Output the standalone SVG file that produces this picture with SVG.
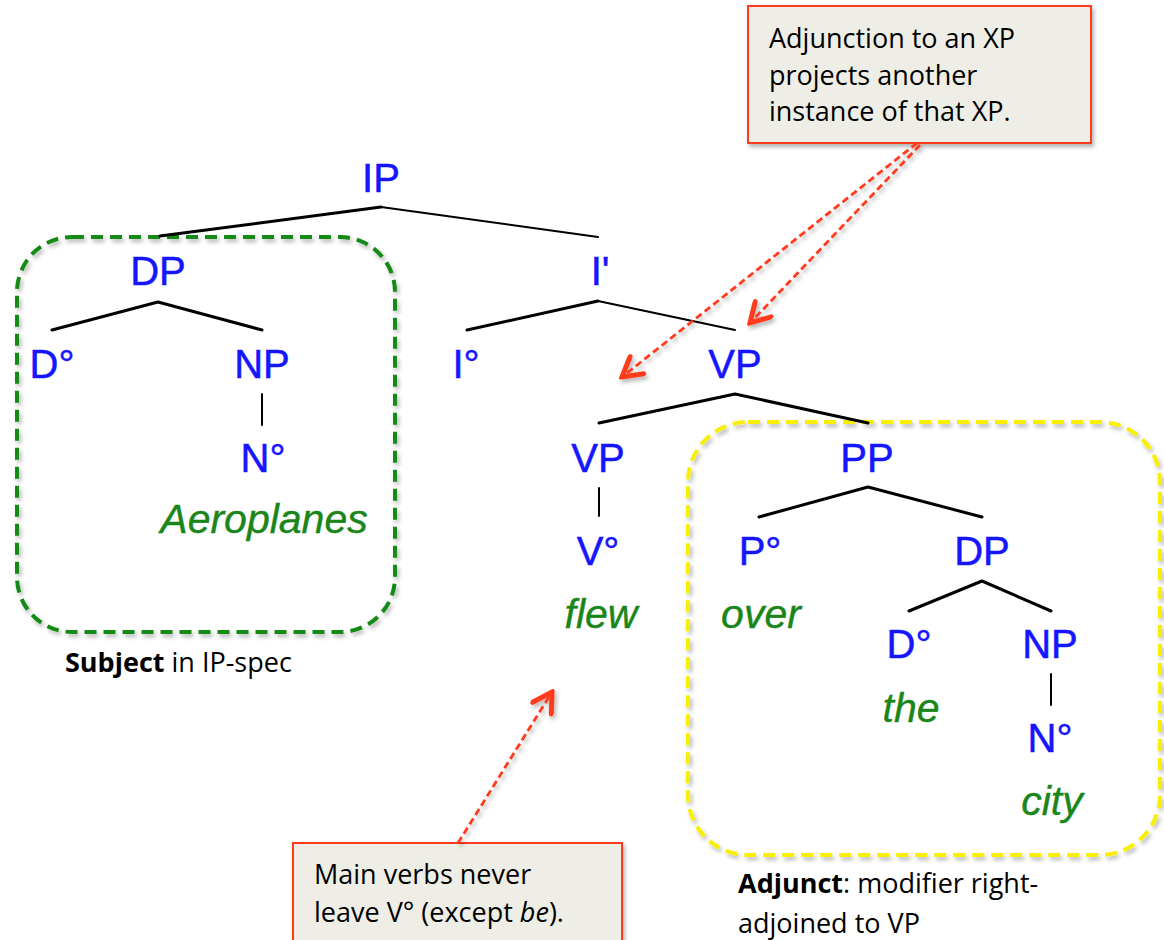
<svg xmlns="http://www.w3.org/2000/svg" width="1164" height="940" viewBox="0 0 1164 940">
<defs>
<filter id="sh" x="-10%" y="-10%" width="130%" height="130%">
<feDropShadow dx="2" dy="3" stdDeviation="2" flood-color="#000" flood-opacity="0.3"/>
</filter>
<marker id="chev" viewBox="0 0 26 26" refX="23" refY="13" markerWidth="26" markerHeight="26" markerUnits="userSpaceOnUse" orient="auto">
<path d="M4,2 L23,13 L4,24" fill="none" stroke="#ff3b1f" stroke-width="5" stroke-linejoin="miter" stroke-linecap="round"/>
</marker>
</defs>
<style>
.lbl{font-family:"Liberation Sans",Arial,sans-serif;font-size:40px;fill:#1515ff;stroke:#1515ff;stroke-width:0.5;text-anchor:middle}
.word{font-family:"Liberation Sans",Arial,sans-serif;font-size:41px;font-style:italic;fill:#1a861a;stroke:#1a861a;stroke-width:0.4;text-anchor:middle}
.br{stroke:#000;stroke-width:3;fill:none;stroke-linejoin:round;stroke-linecap:round}
.thin{stroke-width:2}
.note{font-family:"Open Sans","Liberation Sans",sans-serif;font-size:27px;fill:#000}
.cap{font-family:"Open Sans","Liberation Sans",sans-serif;font-size:27px;fill:#000}
.callout{fill:#efeee6;stroke:#ff3b1f;stroke-width:2}
.arr{stroke:#ff3b1f;stroke-width:2.8;stroke-dasharray:7 4;fill:none;marker-end:url(#chev)}
</style>
<rect width="1164" height="940" fill="#fff"/>

<g id="subject-box" filter="url(#sh)">
<rect x="17" y="237" width="378" height="395" rx="55" fill="none" stroke="#158a15" stroke-width="4" stroke-dasharray="12 7"/>
</g>
<g id="adjunct-box" filter="url(#sh)">
<rect x="688" y="422" width="472" height="433" rx="60" fill="none" stroke="#f8f000" stroke-width="4" stroke-dasharray="12 7"/>
</g>

<g id="connectors">
<polyline class="br" points="160,236 381,207"/>
<polyline class="br thin" points="381,207 598,237"/>
<polyline class="br" points="52,330 158,302 262,330"/>
<polyline class="br" points="467,330 598,301"/>
<polyline class="br thin" points="598,301 735,330"/>
<line class="br thin" x1="262" y1="394" x2="262" y2="425"/>
<polyline class="br" points="599,423 735,394 868,423"/>
<line class="br thin" x1="599" y1="488" x2="599" y2="516"/>
<polyline class="br" points="759,517 868,487 982,517"/>
<polyline class="br" points="909,611 982,581 1051,611"/>
<line class="br thin" x1="1051" y1="674" x2="1051" y2="705"/>
</g>

<g id="node-IP"><text class="lbl" x="381" y="192">IP</text></g>
<g id="node-DP"><text class="lbl" x="158" y="285">DP</text></g>
<g id="node-Ibar"><text class="lbl" x="600" y="285">I'</text></g>
<g id="node-D0"><text class="lbl" x="52" y="378">D°</text></g>
<g id="node-NP"><text class="lbl" x="262" y="378">NP</text></g>
<g id="node-N0"><text class="lbl" x="263" y="472">N°</text><text class="word" x="264" y="533">Aeroplanes</text></g>
<g id="node-I0"><text class="lbl" x="466" y="378">I°</text></g>
<g id="node-VP"><text class="lbl" x="735" y="378">VP</text></g>
<g id="node-VP2"><text class="lbl" x="598" y="472">VP</text></g>
<g id="node-V0"><text class="lbl" x="598" y="565">V°</text><text class="word" x="601" y="628">flew</text></g>
<g id="node-PP"><text class="lbl" x="867" y="472">PP</text></g>
<g id="node-P0"><text class="lbl" x="760" y="565">P°</text><text class="word" x="761" y="628">over</text></g>
<g id="node-DP2"><text class="lbl" x="982" y="565">DP</text></g>
<g id="node-D02"><text class="lbl" x="909" y="658">D°</text><text class="word" x="911" y="722">the</text></g>
<g id="node-NP2"><text class="lbl" x="1050" y="658">NP</text></g>
<g id="node-N02"><text class="lbl" x="1050" y="752">N°</text><text class="word" x="1052" y="815">city</text></g>

<g id="caption-subject"><text class="cap" x="65" y="672"><tspan font-weight="bold">Subject</tspan> in IP-spec</text></g>
<g id="caption-adjunct"><text class="cap" x="738" y="893"><tspan font-weight="bold">Adjunct</tspan>: modifier right-</text><text class="cap" x="738" y="933">adjoined to VP</text></g>

<g id="callout-adjunction">
<rect class="callout" x="748" y="6" width="343" height="137" filter="url(#sh)"/>
<text class="note" x="769" y="48">Adjunction to an XP</text>
<text class="note" x="769" y="85">projects another</text>
<text class="note" x="769" y="121">instance of that XP.</text>
</g>
<g id="callout-mainverbs">
<rect class="callout" x="293" y="843" width="329" height="110" filter="url(#sh)"/>
<text class="note" x="314" y="884">Main verbs never</text>
<text class="note" x="314" y="922">leave V° (except <tspan font-style="italic">be</tspan>).</text>
</g>

<g id="annotation-arrows" filter="url(#sh)">
<line class="arr" x1="917" y1="143" x2="622" y2="377"/>
<line class="arr" x1="920" y1="145" x2="750" y2="323"/>
<line class="arr" x1="458" y1="843" x2="552" y2="692"/>
</g>
</svg>
